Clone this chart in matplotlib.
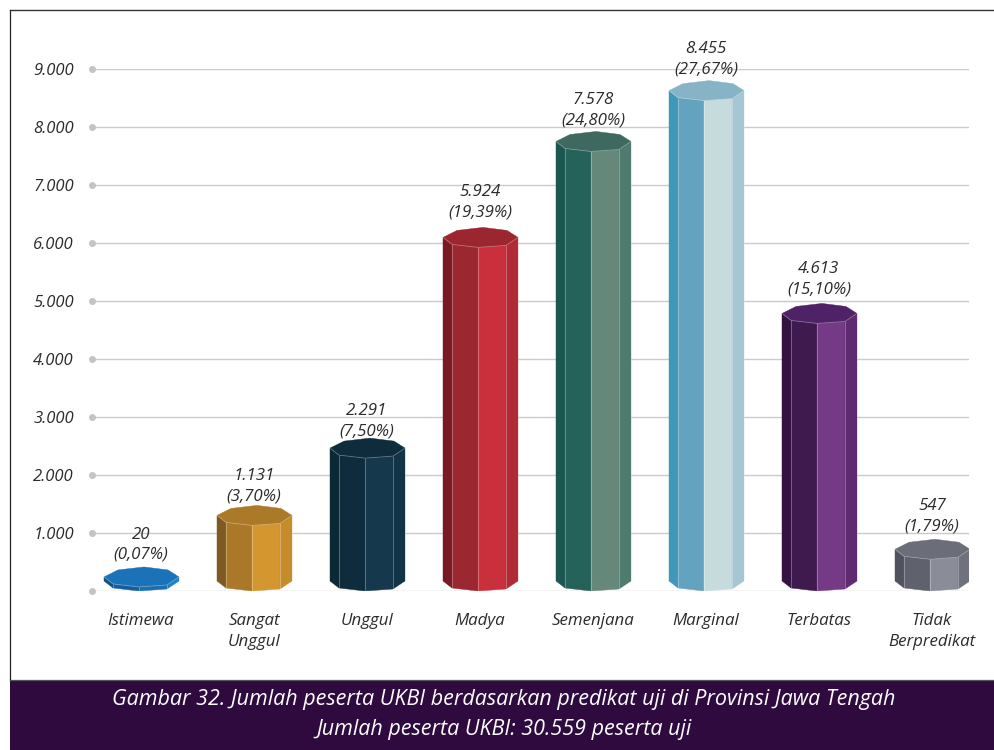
import matplotlib
matplotlib.use("Agg")
import matplotlib.pyplot as plt
from matplotlib.patches import Polygon, Rectangle
from matplotlib.lines import Line2D

categories = ["Istimewa", "Sangat\nUnggul", "Unggul", "Madya", "Semenjana", "Marginal", "Terbatas", "Tidak\nBerpredikat"]
peserta = [20, 1131, 2291, 5924, 7578, 8455, 4613, 547]
persen = ["0,07", "3,70", "7,50", "19,39", "24,80", "27,67", "15,10", "1,79"]
nilai_label = ["20", "1.131", "2.291", "5.924", "7.578", "8.455", "4.613", "547"]
y_ticks = [0, 1000, 2000, 3000, 4000, 5000, 6000, 7000, 8000, 9000]
y_labels = ["", "1.000", "2.000", "3.000", "4.000", "5.000", "6.000", "7.000", "8.000", "9.000"]

# side faces left to right, then the top
warna = [
    ["#12507f", "#175f9c", "#1b6fb0", "#2080c8", "#1a72b8"],
    ["#7f5a20", "#ab7829", "#d4962f", "#c68c2c", "#ab7a28"],
    ["#0b2835", "#0e2c3c", "#16384c", "#123447", "#0e2c3c"],
    ["#771a24", "#9b2730", "#c9303c", "#b12a35", "#9c2630"],
    ["#1c5650", "#24625a", "#65887a", "#4f7a6e", "#3f6860"],
    ["#3f98b8", "#63a3bf", "#c6dcdc", "#a5c6d2", "#87b3c6"],
    ["#33123f", "#3f1a4e", "#743a85", "#5f2a70", "#4f2268"],
    ["#50525e", "#5f616d", "#8a8c98", "#6f717d", "#6b6d79"],
]
label_naik = [35, 32, 30, 38, 34, 34, 37, 36]  # gap above the bar, pixels

plt.rcParams["font.family"] = ["Open Sans", "DejaVu Sans"]
plt.rcParams["font.style"] = "italic"
TEKS = "#2b2b2b"

fig = plt.figure(figsize=(9.95, 7.5), dpi=100)
W, H = 995, 750
ax = fig.add_axes([92 / W, 1 - 591 / H, (969 - 92) / W, (591 - 69) / H])
ax.set_xlim((92 - 141) / 113, (969 - 141) / 113)
ax.set_ylim(0, 9000)
for s in ax.spines.values():
    s.set_visible(False)
ax.set_yticks(y_ticks, y_labels, fontsize=12, color=TEKS)
ax.set_xticks(range(len(categories)), categories, fontsize=12.2, color=TEKS, linespacing=1.4)
ax.tick_params(axis="y", length=0, pad=13)
ax.tick_params(axis="x", length=0, pad=16)
for t in ax.get_xticklabels():
    t.set_verticalalignment("top")
ax.set_axisbelow(True)
ax.grid(axis="y", color="#cbcbcb", lw=1.0)
ax.plot([ax.get_xlim()[0]] * len(y_ticks), y_ticks, "o", color="#c4c4c8", ms=4, clip_on=False, zorder=2)

px = 1 / 113
py = 9000 / 522

# octagon seen from above, pixels from the front corner
top_shape = [(-37, 10), (-28, 3), (-2, 0), (26, 2), (38, 10), (27, 17), (3, 20), (-23, 17)]
front = [0, 1, 2, 3, 4]


def prism(i, v, cols):
    h = max(v, 70)
    pts = [(i + a * px, h + b * py) for a, b in top_shape]
    base = [(i + a * px, b * py) for a, b in top_shape]
    for f in range(4):
        a, b = front[f], front[f + 1]
        ax.add_patch(Polygon([pts[a], pts[b], base[b], base[a]], fc=cols[f], ec=cols[f], lw=0.3, zorder=3))
        # thin light seam between faces
        ax.plot([pts[b][0], base[b][0]], [pts[b][1], base[b][1]], color="#ffffff", alpha=0.3, lw=0.7,
                zorder=3.5, solid_capstyle="butt")
    ax.add_patch(Polygon(pts, fc=cols[4], ec=cols[4], lw=0.3, zorder=4))
    ax.plot([p[0] for p in pts[:5]], [p[1] for p in pts[:5]], color="#ffffff", alpha=0.3, lw=0.6, zorder=4.5)


for i, v in enumerate(peserta):
    prism(i, v, warna[i])
    ax.annotate(f"{nilai_label[i]}\n({persen[i]}%)", (i, max(v, 70)), xytext=(0, label_naik[i] - 11),
                textcoords="offset pixels", ha="center", va="bottom", fontsize=12.2, color=TEKS,
                linespacing=1.35, zorder=6)

# frame and caption band
fig.add_artist(Line2D([9.5 / W, 9.5 / W], [70 / H, 1 - 9.5 / H], color="#222222", lw=0.9))
fig.add_artist(Line2D([9.5 / W, 1], [1 - 9.5 / H, 1 - 9.5 / H], color="#333333", lw=1.0))
fig.add_artist(Line2D([9.5 / W, 1], [70.5 / H, 70.5 / H], color="#555555", lw=0.9))
fig.add_artist(Rectangle((10 / W, 0), 985 / W, 70 / H, fc="#2e0a3e", ec="none", transform=fig.transFigure))
fig.text(504 / W, 1 - 699 / H, "Gambar 32. Jumlah peserta UKBI berdasarkan predikat uji di Provinsi Jawa Tengah",
         color="white", fontsize=15.5, ha="center", va="center")
fig.text(504 / W, 1 - 729 / H, "Jumlah peserta UKBI: 30.559 peserta uji",
         color="white", fontsize=15.5, ha="center", va="center")

fig.savefig("out.png", dpi=100)
